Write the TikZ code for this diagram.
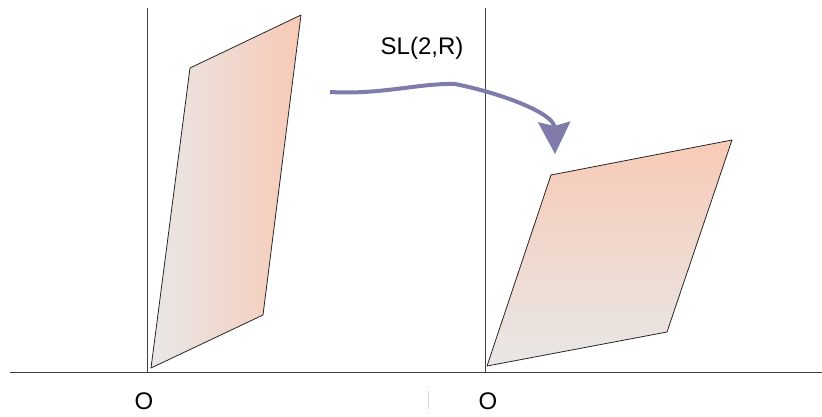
\documentclass[tikz,border=0pt]{standalone}
\usepackage{fontspec}
\setmainfont{Liberation Sans}
\usetikzlibrary{arrows.meta,positioning,calc}
\definecolor{peach}{HTML}{F8CAB6}
\definecolor{ash}{HTML}{E8E7E7}
\definecolor{flowc}{HTML}{7F7BAA}
\tikzset{
  axis/.style={draw=black!75, line width=0.8pt},
  plane/.style={draw=black!85, line width=0.8pt, line join=round},
  flow/.style={draw=flowc, line width=4pt, -{Stealth[length=32pt,width=32pt,inset=4pt]}},
  lbl/.style={font=\fontsize{24}{28}\selectfont, inner sep=0pt},
}

\begin{document}
\begin{tikzpicture}[x=1pt, y=-1pt]
  \useasboundingbox (0,0) rectangle (822,417);

  % axes
  \coordinate (xl) at (10,372);
  \coordinate (xr) at (822,372);
  \coordinate (o1) at (147,372);
  \coordinate (t1) at (147,8);
  \coordinate (o2) at (485,372);
  \coordinate (t2) at (485,8);
  \draw[axis] (xl) -- (xr);
  \draw[axis] (o1) -- (t1);
  \draw[axis] (o2) -- (t2);
  \draw[gray!35, line width=0.6pt] (428,391) -- (428,409);

  % origins
  \node[lbl] (olbl1) at (144,401) {O};
  \node[lbl] (olbl2) at (488,401) {O};

  % left parallelogram
  \shadedraw[plane, left color=ash, right color=peach]
    (151,368) -- (263,315) -- (301,15) -- (190,68) -- cycle;

  % right parallelogram
  \shadedraw[plane, bottom color=ash, top color=peach]
    (487,366) -- (667,332) -- (732,140) -- (551,175) -- cycle;

  % map
  \coordinate (src) at (330,92);
  \coordinate (mid) at (455,84);
  \coordinate (dst) at (555,154);
  \node[lbl] (sl) at (422,48) {SL(2,R)};
  \draw[flow] (src) .. controls (380,95) and (420,83) .. (mid)
    .. controls (505,94) and (554,114) .. (dst);

\end{tikzpicture}
\end{document}
